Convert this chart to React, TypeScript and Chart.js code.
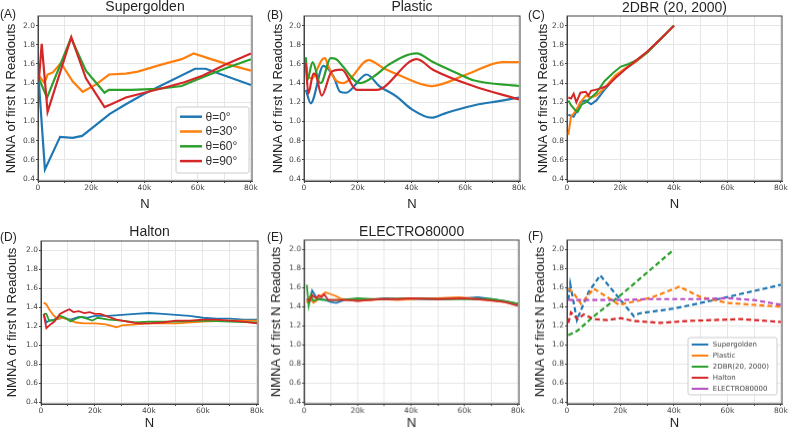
import React, { useEffect, useRef } from 'react';
import { Chart, registerables } from 'chart.js';

Chart.register(...registerables);

// ---------- tick values ----------
const yTickValues = [0.4, 0.6, 0.8, 1.0, 1.2, 1.4, 1.6, 1.8, 2.0];
const xTickValues = [0, 10000, 20000, 30000, 40000, 50000, 60000, 70000, 80000];
const thetaLabels = ['θ=0°', 'θ=30°', 'θ=60°', 'θ=90°'];
const methodLabels = ['Supergolden', 'Plastic', '2DBR(20, 2000)', 'Halton', 'ELECTRO80000'];
const panelTitles = ['Supergolden', 'Plastic', '2DBR (20, 2000)', 'Halton', 'ELECTRO80000', ''];
const panelLetters = ['(A)', '(B)', '(C)', '(D)', '(E)', '(F)'];

// ---------- (A) Supergolden ----------
const supA0x = [300, 2600, 8300, 13000, 16600, 27000, 33000, 40000, 59000, 63000, 80000];
const supA0y = [1.42, 0.5, 0.84, 0.83, 0.85, 1.08, 1.18, 1.29, 1.55, 1.55, 1.38];
const supA30x = [300, 2400, 3600, 5500, 8600, 13000, 16800, 22000, 26700, 33000, 37500, 46000, 54000, 58500, 65000, 72000, 80000];
const supA30y = [1.48, 1.4, 1.49, 1.51, 1.61, 1.42, 1.31, 1.39, 1.49, 1.5, 1.52, 1.59, 1.65, 1.71, 1.65, 1.59, 1.53];
const supA60x = [300, 3400, 12400, 18000, 25000, 26600, 35000, 45000, 54000, 60000, 70000, 80000];
const supA60y = [1.45, 1.25, 1.87, 1.53, 1.3, 1.33, 1.33, 1.34, 1.37, 1.44, 1.55, 1.65];
const supA90x = [300, 1400, 3600, 12500, 18000, 25000, 27500, 33000, 40000, 47000, 55000, 62000, 70000, 80000];
const supA90y = [1.42, 1.81, 1.1, 1.88, 1.45, 1.15, 1.18, 1.25, 1.3, 1.35, 1.41, 1.48, 1.59, 1.71];

// ---------- (B) Plastic ----------
const plaB0x = [700, 2500, 7200, 11000, 13400, 15600, 23300, 28000, 34500, 40000, 47500, 52000, 58000, 65000, 72000, 80000];
const plaB0y = [1.33, 1.19, 1.58, 1.47, 1.31, 1.3, 1.49, 1.37, 1.26, 1.13, 1.04, 1.08, 1.13, 1.18, 1.21, 1.25];
const plaB30x = [700, 1500, 3000, 5000, 6600, 7800, 9000, 11500, 14600, 17000, 24000, 30000, 35700, 47500, 60500, 74000, 80000];
const plaB30y = [1.59, 1.47, 1.45, 1.55, 1.64, 1.66, 1.58, 1.44, 1.4, 1.44, 1.64, 1.55, 1.48, 1.37, 1.49, 1.62, 1.62];
const plaB60x = [700, 1200, 3200, 6000, 6700, 9900, 12000, 14000, 20800, 27000, 31400, 41900, 48000, 58000, 63000, 80000];
const plaB60y = [1.67, 1.43, 1.62, 1.4, 1.41, 1.66, 1.65, 1.59, 1.4, 1.49, 1.59, 1.71, 1.62, 1.49, 1.43, 1.37];
const plaB90x = [700, 1600, 3500, 4500, 6600, 10300, 14000, 19600, 27000, 42000, 48000, 63000, 80000];
const plaB90y = [1.61, 1.29, 1.5, 1.48, 1.27, 1.52, 1.54, 1.33, 1.33, 1.65, 1.54, 1.37, 1.23];

// ---------- (C) 2DBR (20, 2000) ----------
const dbrC0x = [500, 1500, 2500, 3500, 5000, 7000, 9000, 11000, 14000, 18000, 22000, 26000, 30000, 35000, 40000];
const dbrC0y = [1.07, 1.06, 1.05, 1.1, 1.2, 1.22, 1.18, 1.22, 1.33, 1.46, 1.55, 1.63, 1.72, 1.86, 2.0];
const dbrC30x = [500, 1500, 3000, 5000, 7000, 9000, 11000, 14000, 18000, 22000, 26000, 30000, 35000, 40000];
const dbrC30y = [0.86, 1.05, 1.1, 1.2, 1.27, 1.25, 1.27, 1.35, 1.48, 1.56, 1.63, 1.72, 1.86, 2.0];
const dbrC60x = [500, 1500, 3000, 4000, 5500, 7000, 9000, 11000, 14000, 17000, 20000, 23000, 26000, 30000, 35000, 40000];
const dbrC60y = [1.22, 1.17, 1.12, 1.1, 1.18, 1.2, 1.25, 1.3, 1.42, 1.5, 1.57, 1.6, 1.64, 1.72, 1.86, 2.0];
const dbrC90x = [500, 1500, 2500, 3500, 5000, 7000, 8000, 9000, 12000, 15000, 18000, 22000, 26000, 30000, 35000, 40000];
const dbrC90y = [1.25, 1.24, 1.29, 1.2, 1.3, 1.31, 1.27, 1.32, 1.34, 1.37, 1.45, 1.55, 1.64, 1.73, 1.86, 2.0];

// ---------- (D) Halton ----------
const halD0x = [1000, 2000, 3000, 5000, 8000, 11000, 14000, 17000, 20000, 25000, 30000, 35000, 40000, 45000, 50000, 55000, 60000, 65000, 70000, 75000, 80000];
const halD0y = [1.33, 1.24, 1.26, 1.27, 1.29, 1.27, 1.3, 1.29, 1.31, 1.31, 1.32, 1.33, 1.34, 1.33, 1.32, 1.31, 1.29, 1.28, 1.28, 1.27, 1.27];
const halD30x = [1000, 2000, 3000, 4500, 6000, 8000, 10000, 13000, 16000, 20000, 24000, 28000, 30000, 35000, 40000, 50000, 60000, 70000, 80000];
const halD30y = [1.45, 1.43, 1.38, 1.32, 1.28, 1.29, 1.27, 1.24, 1.23, 1.23, 1.22, 1.19, 1.21, 1.22, 1.23, 1.23, 1.25, 1.26, 1.26];
const halD60x = [1000, 2000, 3000, 4500, 7000, 9000, 11000, 13000, 15000, 17000, 19000, 21000, 25000, 30000, 35000, 40000, 50000, 60000, 70000, 80000];
const halD60y = [1.33, 1.33, 1.26, 1.26, 1.31, 1.29, 1.25, 1.28, 1.3, 1.28, 1.26, 1.29, 1.27, 1.26, 1.24, 1.25, 1.25, 1.26, 1.25, 1.24];
const halD90x = [1000, 2000, 3500, 5000, 7000, 9000, 10500, 12000, 14000, 16000, 18000, 20000, 22000, 25000, 28000, 32000, 36000, 40000, 45000, 50000, 55000, 60000, 65000, 70000, 75000, 80000];
const halD90y = [1.33, 1.18, 1.22, 1.25, 1.33, 1.36, 1.38, 1.35, 1.36, 1.34, 1.35, 1.33, 1.33, 1.3, 1.27, 1.25, 1.23, 1.23, 1.24, 1.26, 1.26, 1.27, 1.27, 1.26, 1.25, 1.23];

// ---------- (E) ELECTRO80000 ----------
const eleE0x = [1000, 2000, 3000, 4500, 6000, 8000, 10000, 12000, 15000, 20000, 25000, 30000, 35000, 40000, 50000, 60000, 65000, 70000, 75000, 80000];
const eleE0y = [1.48, 1.45, 1.57, 1.5, 1.48, 1.47, 1.45, 1.44, 1.47, 1.48, 1.47, 1.49, 1.48, 1.48, 1.48, 1.49, 1.5, 1.48, 1.46, 1.43];
const eleE30x = [1000, 2000, 3500, 5000, 6500, 8000, 10000, 12000, 14000, 17000, 20000, 25000, 30000, 35000, 40000, 50000, 58000, 65000, 72000, 80000];
const eleE30y = [1.44, 1.5, 1.44, 1.47, 1.52, 1.55, 1.53, 1.51, 1.48, 1.47, 1.46, 1.47, 1.48, 1.47, 1.48, 1.49, 1.5, 1.48, 1.46, 1.43];
const eleE60x = [1000, 1700, 2500, 3500, 5000, 7000, 10000, 14000, 20000, 25000, 30000, 40000, 50000, 60000, 70000, 75000, 80000];
const eleE60y = [1.63, 1.41, 1.52, 1.46, 1.48, 1.47, 1.47, 1.47, 1.49, 1.48, 1.48, 1.49, 1.48, 1.48, 1.48, 1.46, 1.43];
const eleE90x = [1000, 2000, 3000, 4500, 5500, 6500, 7500, 9000, 12000, 16000, 20000, 24000, 28000, 35000, 40000, 50000, 60000, 68000, 75000, 80000];
const eleE90y = [1.48, 1.46, 1.52, 1.49, 1.52, 1.5, 1.53, 1.47, 1.47, 1.47, 1.46, 1.47, 1.48, 1.48, 1.49, 1.48, 1.49, 1.47, 1.45, 1.41];

// ---------- (F) comparison ----------
const cmpSupX = [500, 1200, 3700, 8000, 12400, 25000, 27000, 40000, 55000, 80000];
const cmpSupY = [1.47, 1.64, 1.26, 1.55, 1.73, 1.3, 1.33, 1.38, 1.47, 1.63];
const cmpPlaX = [500, 2300, 5200, 10000, 19500, 27600, 32000, 42000, 50000, 60000, 80000];
const cmpPlaY = [1.59, 1.55, 1.43, 1.59, 1.42, 1.47, 1.5, 1.61, 1.5, 1.44, 1.4];
const cmpDbrX = [500, 4000, 10000, 20000, 30000, 40000];
const cmpDbrY = [1.1, 1.15, 1.3, 1.52, 1.76, 2.0];
const cmpHalX = [500, 1500, 4000, 6300, 10000, 15000, 20000, 25000, 35000, 45000, 55000, 65000, 80000];
const cmpHalY = [1.23, 1.34, 1.27, 1.32, 1.27, 1.26, 1.28, 1.25, 1.23, 1.25, 1.26, 1.27, 1.24];
const cmpEleX = [500, 10000, 20000, 30000, 40000, 50000, 60000, 70000, 80000];
const cmpEleY = [1.47, 1.47, 1.47, 1.48, 1.48, 1.48, 1.49, 1.47, 1.42];

// ---------- styles ----------
const COLORS = { blue: '#1f77b4', orange: '#ff7f0e', green: '#2ca02c', red: '#d62728', purple: '#b64fc2' };
const SANS = "'Liberation Sans', Arial, sans-serif";
const MPL = "'DejaVu Sans', sans-serif";
const WY = 40;
const PT = 4;
const PR = 12;
const HX = 34;

function pts(xs: number[], ys: number[]) {
  return xs.map((x, i) => ({ x, y: ys[i] }));
}

type Series = { label: string; color: string; xs: number[]; ys: number[]; width: number; dash?: number[]; smooth?: boolean };
type LegendCfg = { right: number; bottom: number; w: number; h: number; first: number; rowH: number; lineL: number; lineLen: number; gap: number; font: string; color: string; lw: number };
type PanelCfg = { l: number; r: number; t: number; b: number; yTitleDist: number; xTitleDist: number; series: Series[]; legend?: LegendCfg };

const framePlugin = {
  id: 'frame',
  afterDatasetsDraw(chart: any) {
    const { ctx, chartArea: a } = chart;
    ctx.save();
    ctx.strokeStyle = '#444';
    ctx.lineWidth = 1;
    ctx.strokeRect(a.left, a.top, a.right - a.left, a.bottom - a.top);
    ctx.restore();
  },
};

const boxLegendPlugin = {
  id: 'boxLegend',
  afterDraw(chart: any, _args: any, opts: any) {
    if (!opts || !opts.items) return;
    const { ctx, chartArea: a } = chart;
    const x0 = a.right - opts.right - opts.w;
    const y0 = a.bottom - opts.bottom - opts.h;
    ctx.save();
    ctx.beginPath();
    ctx.roundRect(x0, y0, opts.w, opts.h, 2);
    ctx.fillStyle = 'rgba(255,255,255,0.9)';
    ctx.fill();
    ctx.strokeStyle = '#cccccc';
    ctx.lineWidth = 1;
    ctx.stroke();
    ctx.font = opts.font;
    ctx.textBaseline = 'middle';
    ctx.textAlign = 'left';
    opts.items.forEach((it: any, i: number) => {
      const y = y0 + opts.first + i * opts.rowH;
      ctx.beginPath();
      ctx.strokeStyle = it.color;
      ctx.lineWidth = opts.lw;
      ctx.setLineDash([]);
      ctx.moveTo(x0 + opts.lineL, y);
      ctx.lineTo(x0 + opts.lineL + opts.lineLen, y);
      ctx.stroke();
      ctx.fillStyle = opts.color;
      ctx.fillText(it.label, x0 + opts.lineL + opts.lineLen + opts.gap, y + 0.5);
    });
    ctx.restore();
  },
};

function thetaSeries(xs: number[][], ys: number[][], width: number, smooth?: boolean): Series[] {
  const cols = [COLORS.blue, COLORS.orange, COLORS.green, COLORS.red];
  return cols.map((c, i) => ({ label: thetaLabels[i], color: c, xs: xs[i], ys: ys[i], width, smooth }));
}

const panels: PanelCfg[] = [
  {
    l: 38, r: 252, t: 16, b: 181, yTitleDist: 27, xTitleDist: 23,
    series: thetaSeries([supA0x, supA30x, supA60x, supA90x], [supA0y, supA30y, supA60y, supA90y], 2.2),
    legend: { right: 3, bottom: 8, w: 73, h: 66, first: 9.7, rowH: 14.8, lineL: 4, lineLen: 22, gap: 3.5, font: `12px ${SANS}`, color: '#333', lw: 2.5 },
  },
  {
    l: 304, r: 520, t: 16, b: 181, yTitleDist: 25.7, xTitleDist: 23,
    series: thetaSeries([plaB0x, plaB30x, plaB60x, plaB90x], [plaB0y, plaB30y, plaB60y, plaB90y], 2.2, true),
  },
  {
    l: 567, r: 782, t: 16, b: 181, yTitleDist: 23.4, xTitleDist: 23,
    series: thetaSeries([dbrC0x, dbrC30x, dbrC60x, dbrC90x], [dbrC0y, dbrC30y, dbrC60y, dbrC90y], 2),
  },
  {
    l: 41, r: 258, t: 240.5, b: 404, yTitleDist: 29, xTitleDist: 19.5,
    series: thetaSeries([halD0x, halD30x, halD60x, halD90x], [halD0y, halD30y, halD60y, halD90y], 1.8),
  },
  {
    l: 304.3, r: 519, t: 240, b: 403.5, yTitleDist: 27.6, xTitleDist: 19.8,
    series: thetaSeries([eleE0x, eleE30x, eleE60x, eleE90x], [eleE0y, eleE30y, eleE60y, eleE90y], 1.8),
  },
  {
    l: 567, r: 782, t: 240, b: 403.5, yTitleDist: 26.7, xTitleDist: 19.8,
    series: [
      { label: methodLabels[0], color: COLORS.blue, xs: cmpSupX, ys: cmpSupY, width: 2.2, dash: [5, 3] },
      { label: methodLabels[1], color: COLORS.orange, xs: cmpPlaX, ys: cmpPlaY, width: 2.2, dash: [5, 3] },
      { label: methodLabels[2], color: COLORS.green, xs: cmpDbrX, ys: cmpDbrY, width: 2.2, dash: [5, 3] },
      { label: methodLabels[3], color: COLORS.red, xs: cmpHalX, ys: cmpHalY, width: 2.2, dash: [5, 3] },
      { label: methodLabels[4], color: COLORS.purple, xs: cmpEleX, ys: cmpEleY, width: 2.2, dash: [5, 3] },
    ],
    legend: { right: 5, bottom: 9, w: 89, h: 57, first: 7, rowH: 11, lineL: 3.7, lineLen: 16.6, gap: 4.5, font: `7px ${MPL}`, color: '#444', lw: 2 },
  },
];

const titleCenters = [6, 6, 7, 230.7, 230.7, 230.7];
const letterPos = [
  { left: 0, cy: 14 },
  { left: 267, cy: 15 },
  { left: 528, cy: 15 },
  { left: 0, cy: 236.7 },
  { left: 267, cy: 237 },
  { left: 528, cy: 236 },
];

function Panel({ cfg }: { cfg: PanelCfg }) {
  const ref = useRef<HTMLCanvasElement | null>(null);
  const W = WY + (cfg.r - cfg.l) + PR;
  const H = PT + (cfg.b - cfg.t) + HX;
  useEffect(() => {
    if (!ref.current) return;
    const n = cfg.series.length;
    const chart = new Chart(ref.current, {
      type: 'line',
      data: {
        datasets: cfg.series.map((s, i) => ({
          label: s.label,
          data: pts(s.xs, s.ys),
          borderColor: s.color,
          backgroundColor: s.color,
          borderWidth: s.width,
          borderDash: s.dash || [],
          pointRadius: 0,
          tension: s.smooth ? 0.4 : 0,
          cubicInterpolationMode: s.smooth ? 'monotone' : 'default',
          fill: false,
          order: n - 1 - i,
        })),
      },
      options: {
        responsive: false,
        animation: false,
        devicePixelRatio: 1,
        layout: { padding: { left: 0, top: PT, right: PR, bottom: 0 } },
        plugins: {
          legend: { display: false },
          title: { display: false },
          tooltip: { enabled: false },
          boxLegend: cfg.legend ? { ...cfg.legend, items: cfg.series.map((s) => ({ label: s.label, color: s.color })) } : {},
        } as any,
        scales: {
          x: {
            type: 'linear',
            min: 0,
            max: 80400,
            afterBuildTicks: (s: any) => {
              s.ticks = xTickValues.map((v) => ({ value: v }));
            },
            afterFit: (s: any) => {
              s.height = HX;
              s.paddingLeft = 0;
              s.paddingRight = 0;
            },
            ticks: {
              autoSkip: false,
              maxRotation: 0,
              padding: 1,
              color: '#444',
              font: { family: MPL, size: 7.5 },
              callback: (v: any) => (v === 0 ? '0' : v % 20000 === 0 ? `${v / 1000}k` : ''),
            },
            grid: { color: '#e6e6e6', lineWidth: 1, drawTicks: true, tickLength: 2, tickColor: '#444' },
            border: { display: true, color: '#444' },
            title: {
              display: true,
              text: 'N',
              color: '#222',
              font: { family: SANS, size: 13, lineHeight: 1.2 },
              padding: { top: 0, bottom: HX - cfg.xTitleDist - 7.8 },
            },
          },
          y: {
            type: 'linear',
            min: 0.38,
            max: 2.1,
            afterBuildTicks: (s: any) => {
              s.ticks = yTickValues.map((v) => ({ value: v }));
            },
            afterFit: (s: any) => {
              s.width = WY;
              s.paddingTop = 0;
              s.paddingBottom = 0;
            },
            ticks: {
              padding: 1,
              color: '#444',
              font: { family: MPL, size: 7.5 },
              callback: (v: any) => Number(v).toFixed(1),
            },
            grid: { color: '#e6e6e6', lineWidth: 1, drawTicks: true, tickLength: 2, tickColor: '#444' },
            border: { display: true, color: '#444' },
            title: {
              display: true,
              text: 'NMNA of first N Readouts',
              color: '#222',
              font: { family: SANS, size: 13, lineHeight: 1.2 },
              padding: { top: WY - cfg.yTitleDist - 7.8, bottom: 0 },
            },
          },
        },
      } as any,
      plugins: [framePlugin, boxLegendPlugin],
    });
    return () => chart.destroy();
  }, []);
  return (
    <canvas
      ref={ref}
      width={W}
      height={H}
      style={{ position: 'absolute', left: cfg.l - WY, top: cfg.t - PT, width: W, height: H }}
    />
  );
}

export default function App() {
  return (
    <div style={{ position: 'absolute', left: 0, top: 0, width: 788, height: 429, overflow: 'hidden', background: '#fff' }}>
      {panels.map((p, i) => (
        <Panel key={i} cfg={p} />
      ))}
      {panels.map((p, i) =>
        panelTitles[i] ? (
          <div
            key={'t' + i}
            style={{
              position: 'absolute',
              left: p.l,
              width: p.r - p.l,
              top: titleCenters[i] - 8,
              height: 16,
              lineHeight: '16px',
              textAlign: 'center',
              fontFamily: SANS,
              fontSize: 14,
              color: '#231f20',
              whiteSpace: 'nowrap',
            }}
          >
            {panelTitles[i]}
          </div>
        ) : null
      )}
      {letterPos.map((lp, i) => (
        <div
          key={'l' + i}
          style={{
            position: 'absolute',
            left: lp.left,
            top: lp.cy - 7,
            height: 14,
            lineHeight: '14px',
            fontFamily: SANS,
            fontSize: 12,
            color: '#231f20',
            whiteSpace: 'nowrap',
          }}
        >
          {panelLetters[i]}
        </div>
      ))}
    </div>
  );
}
